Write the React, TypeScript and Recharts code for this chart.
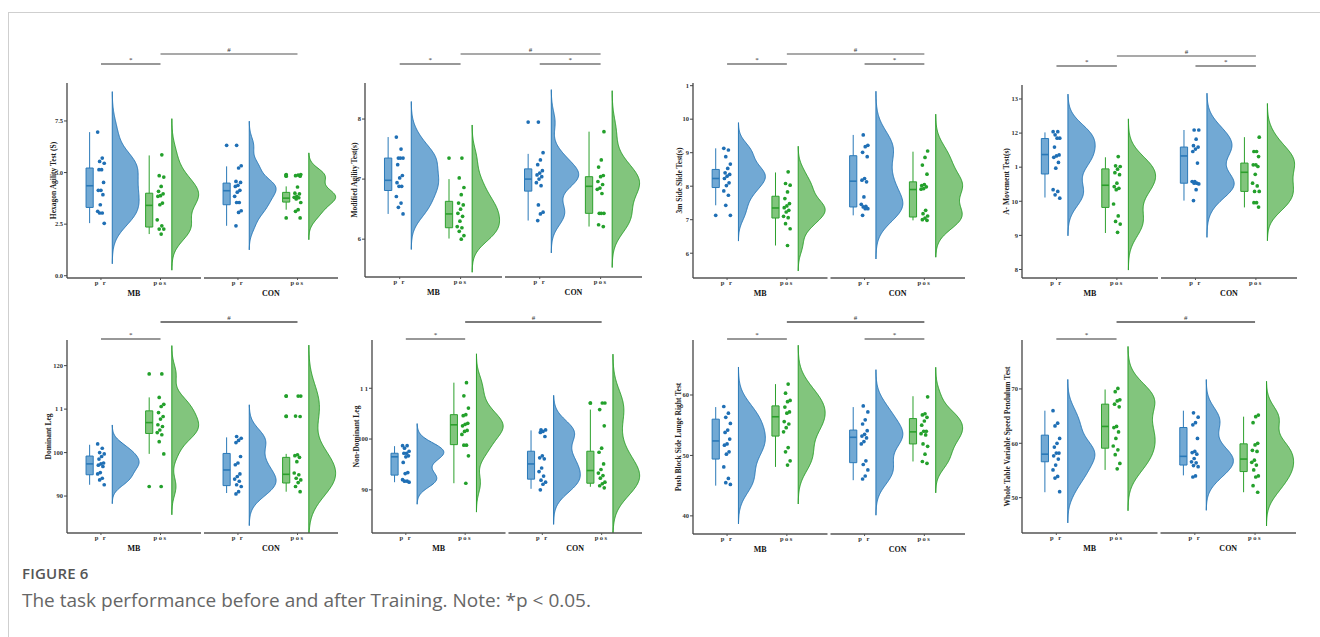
import React from "react";
import {
  ComposedChart,
  XAxis,
  YAxis,
  Area,
  Line,
  Scatter,
  ReferenceArea,
  ReferenceLine,
} from "recharts";

const SERIF = '"Liberation Serif", "Times New Roman", serif';

// categories
const facetLabels = ["MB", "CON"];
const timeLabels = ["p r", "pos", "p r", "pos"];

// Hexagon Agility Test (S)
const hexTicks = [0, 2.5, 5, 7.5];
const hexTickLabels = ["0.0", "2.5", "5.0", "7.5"];
const hexMbPr = [6.96, 5.7, 5.54, 5.45, 5.14, 5.14, 4.52, 4.14, 4.14, 3.93, 3.44, 3.12, 3.04, 3.04, 2.54];
const hexMbPos = [5.86, 4.85, 4.78, 4.33, 4.09, 3.97, 3.88, 3.85, 3.52, 3.44, 2.71, 2.42, 2.26, 2.26, 2.02];
const hexConPr = [6.32, 5.33, 5.22, 4.57, 4.52, 4.38, 4.33, 4.14, 4.05, 3.85, 3.55, 3.55, 3.15, 3.07, 2.42];
const hexConPos = [4.9, 4.88, 4.85, 4.82, 4.3, 4.0, 3.97, 3.85, 3.8, 3.78, 3.72, 3.55, 3.2, 3.12, 2.8];
// box stats per group: lower whisker, q1, median, q3, upper whisker
const hexBox = [[2.55, 3.31, 4.36, 5.22, 6.96], [2.02, 2.36, 3.41, 4.0, 5.83], [2.42, 3.44, 4.12, 4.49, 5.3], [3.2, 3.57, 3.76, 4.04, 4.33]];

// Modified Agility Test(s)
const modTicks = [6, 7, 8];
const modTickLabels = ["6", "7", "8"];
const modMbPr = [7.7, 7.5, 7.35, 7.35, 7.35, 7.24, 7.06, 7.02, 6.94, 6.88, 6.88, 6.71, 6.6, 6.53, 6.42];
const modMbPos = [7.35, 7.02, 6.86, 6.74, 6.6, 6.57, 6.5, 6.43, 6.38, 6.3, 6.21, 6.19, 6.13, 6.06, 6.0];
const modConPr = [7.95, 7.44, 7.32, 7.24, 7.14, 7.1, 7.07, 7.04, 7.0, 6.94, 6.89, 6.57, 6.45, 6.42, 6.31];
const modConPos = [7.79, 7.32, 7.2, 7.06, 7.04, 6.96, 6.91, 6.85, 6.83, 6.76, 6.43, 6.43, 6.43, 6.24, 6.21];
const modBox = [[6.42, 6.81, 6.98, 7.35, 7.7], [6.01, 6.19, 6.42, 6.63, 7.0], [6.31, 6.8, 7.0, 7.17, 7.42], [6.21, 6.43, 6.88, 7.04, 7.79]];

// 3m Side Slide Test(s)
const slideTicks = [6, 7, 8, 9, 10, 11];
const slideTickLabels = ["6", "7", "8", "9", "10", "1"];
const slideMbPr = [9.13, 9.08, 8.88, 8.66, 8.53, 8.4, 8.35, 8.3, 8.23, 8.1, 8.02, 7.86, 7.73, 7.43, 7.13];
const slideMbPos = [8.43, 8.08, 8.03, 7.83, 7.63, 7.48, 7.41, 7.36, 7.28, 7.23, 7.1, 7.06, 6.88, 6.73, 6.23];
const slideConPr = [9.53, 9.22, 9.18, 9.01, 8.88, 8.23, 8.18, 8.13, 7.68, 7.46, 7.4, 7.38, 7.33, 7.33, 7.13];
const slideConPos = [9.05, 8.86, 8.63, 8.36, 8.05, 8.02, 7.98, 7.93, 7.91, 7.28, 7.18, 7.11, 7.05, 7.0, 6.98];
const slideBox = [[7.43, 7.96, 8.23, 8.5, 9.13], [6.23, 7.05, 7.35, 7.7, 8.41], [7.13, 7.38, 8.15, 8.91, 9.53], [6.98, 7.08, 7.9, 8.13, 9.03]];

// A- Movement Test(s)
const moveTicks = [8, 9, 10, 11, 12, 13];
const moveTickLabels = ["8", "9", "10", "1", "12", "13"];
const moveMbPr = [12.04, 12.04, 11.95, 11.85, 11.85, 11.59, 11.36, 11.33, 11.29, 11.14, 10.97, 10.34, 10.29, 10.19, 10.09];
const moveMbPos = [11.31, 11.04, 11.02, 10.94, 10.84, 10.78, 10.53, 10.43, 10.38, 10.34, 9.92, 9.57, 9.41, 9.33, 9.09];
const moveConPr = [12.09, 12.09, 11.82, 11.63, 11.59, 11.53, 11.46, 11.12, 10.58, 10.58, 10.53, 10.53, 10.51, 10.34, 10.02];
const moveConPos = [11.88, 11.46, 11.46, 11.31, 11.07, 11.07, 11.02, 10.79, 10.53, 10.45, 10.29, 10.29, 9.96, 9.96, 9.83];
const moveBox = [[10.11, 10.8, 11.37, 11.84, 12.02], [9.07, 9.82, 10.47, 10.95, 11.29], [10.02, 10.53, 11.33, 11.59, 12.09], [9.82, 10.29, 10.85, 11.12, 11.88]];

// Dominant Leg
const domTicks = [90, 100, 110, 120];
const domTickLabels = ["90", "100", "1 1", "120"];
const domMbPr = [102.0, 101.0, 100.0, 99.7, 99.1, 98.5, 97.6, 97.4, 97.1, 96.8, 95.4, 95.1, 94.1, 93.7, 92.6];
const domMbPos = [118.1, 112.7, 111.1, 110.6, 109.2, 108.3, 107.7, 106.4, 106.0, 105.2, 104.6, 104.1, 102.5, 99.7, 92.2];
const domConPr = [103.7, 103.3, 102.8, 102.3, 99.1, 97.6, 97.2, 95.1, 94.5, 93.9, 93.4, 92.6, 92.2, 91.0, 90.5];
const domConPos = [113.0, 113.0, 108.4, 108.3, 99.5, 99.3, 98.9, 97.9, 95.3, 94.9, 94.1, 93.7, 93.1, 92.2, 91.0];
const domBox = [[92.6, 94.9, 97.4, 99.2, 101.8], [99.7, 104.4, 106.9, 109.6, 112.7], [90.7, 92.4, 96.0, 99.8, 103.5], [91.0, 93.0, 95.0, 98.9, 99.7]];

// Non-Dominant Leg
const ndTicks = [90, 100, 110];
const ndTickLabels = ["90", "100", "1 1"];
const ndMbPr = [98.7, 98.7, 98.2, 97.6, 97.2, 97.2, 96.7, 96.5, 95.4, 93.4, 93.2, 92.0, 91.7, 91.7, 91.5];
const ndMbPos = [111.1, 108.5, 106.1, 104.8, 104.6, 103.1, 102.9, 102.6, 101.7, 101.5, 100.9, 98.8, 98.8, 96.7, 91.3];
const ndConPr = [101.8, 101.8, 101.5, 101.3, 100.5, 96.7, 96.3, 96.1, 94.3, 93.6, 92.7, 91.9, 91.5, 91.1, 90.0];
const ndConPos = [107.1, 107.1, 105.8, 102.6, 98.2, 97.4, 95.1, 94.0, 93.3, 92.8, 92.3, 91.5, 91.2, 90.8, 90.4];
const ndBox = [[91.5, 92.9, 96.5, 97.2, 98.6], [91.3, 98.9, 102.8, 104.8, 111.1], [90.2, 92.1, 95.1, 97.6, 101.7], [90.6, 91.3, 93.8, 97.6, 105.8]];

// Push Block Side Lunge Right Test
const pushTicks = [40, 50, 60];
const pushTickLabels = ["40", "50", "60"];
const pushMbPr = [58.1, 57.0, 56.3, 55.3, 54.2, 53.8, 52.7, 51.9, 51.7, 50.6, 50.2, 48.1, 46.2, 45.5, 45.2];
const pushMbPos = [61.8, 60.3, 59.1, 58.9, 58.0, 57.2, 57.0, 55.6, 55.2, 54.6, 53.9, 51.3, 50.6, 49.1, 48.4];
const pushConPr = [58.2, 57.2, 55.9, 55.2, 54.1, 53.5, 53.2, 52.9, 52.3, 51.9, 49.1, 48.5, 47.6, 46.6, 46.1];
const pushConPos = [59.7, 56.9, 56.7, 56.3, 55.7, 55.0, 54.0, 54.0, 53.6, 53.4, 51.9, 51.5, 50.2, 49.0, 48.7];
const pushBox = [[45.0, 49.4, 52.4, 56.0, 58.0], [48.1, 53.2, 56.4, 58.2, 61.8], [45.9, 48.8, 53.0, 54.2, 58.0], [49.0, 51.9, 53.9, 56.1, 59.8]];

// Whole Table Variable Speed Pendulum Test
const wtTicks = [50, 60, 70];
const wtTickLabels = ["50", "60", "70"];
const wtMbPr = [66.0, 63.7, 63.2, 60.9, 60.0, 59.3, 58.2, 58.2, 57.7, 57.1, 56.0, 55.1, 53.9, 53.6, 51.1];
const wtMbPos = [70.1, 69.5, 68.0, 67.8, 67.2, 66.7, 63.1, 62.9, 62.1, 60.9, 59.5, 58.8, 57.9, 56.3, 55.3];
const wtConPr = [65.6, 64.8, 63.8, 63.4, 60.9, 58.5, 58.3, 58.0, 57.2, 56.6, 56.4, 55.9, 55.7, 54.0, 53.8];
const wtConPos = [65.2, 64.9, 63.8, 60.0, 59.7, 58.7, 58.5, 56.9, 56.5, 56.0, 55.1, 54.0, 53.8, 52.2, 51.0];
const wtBox = [[51.0, 56.6, 58.0, 61.5, 66.0], [55.1, 59.1, 63.1, 67.2, 69.9], [54.1, 56.0, 57.6, 62.9, 66.0], [51.0, 54.8, 57.1, 59.9, 64.9]];

const panels = [
  { title: "Hexagon Agility Test (S)", ticks: hexTicks, tickLabels: hexTickLabels, domain: [-0.11, 9.34], groups: [hexMbPr, hexMbPos, hexConPr, hexConPos], box: hexBox, conStar: false, geo: { l: 67, r: 338, t: 83, b: 278, lab: 53 }, row: 0 },
  { title: "Modified Agility Test(s)", ticks: modTicks, tickLabels: modTickLabels, domain: [5.37, 8.6], groups: [modMbPr, modMbPos, modConPr, modConPos], box: modBox, conStar: true, geo: { l: 365, r: 642, t: 83, b: 277, lab: 354 }, row: 0 },
  { title: "3m Side Slide Test(s)", ticks: slideTicks, tickLabels: slideTickLabels, domain: [5.26, 11.08], groups: [slideMbPr, slideMbPos, slideConPr, slideConPos], box: slideBox, conStar: true, geo: { l: 693, r: 965, t: 83, b: 278, lab: 679 }, row: 0 },
  { title: "A- Movement Test(s)", ticks: moveTicks, tickLabels: moveTickLabels, domain: [7.75, 13.41], groups: [moveMbPr, moveMbPos, moveConPr, moveConPos], box: moveBox, conStar: true, geo: { l: 1022, r: 1297, t: 85, b: 278, lab: 1006 }, row: 0 },
  { title: "Dominant Leg", ticks: domTicks, tickLabels: domTickLabels, domain: [81.5, 125.9], groups: [domMbPr, domMbPos, domConPr, domConPos], box: domBox, conStar: false, geo: { l: 67, r: 338, t: 340, b: 533, lab: 48 }, row: 1 },
  { title: "Non-Dominant Leg", ticks: ndTicks, tickLabels: ndTickLabels, domain: [81.5, 119.5], groups: [ndMbPr, ndMbPos, ndConPr, ndConPos], box: ndBox, conStar: false, geo: { l: 372, r: 642, t: 340, b: 533, lab: 356 }, row: 1 },
  { title: "Push Block Side Lunge Right Test", ticks: pushTicks, tickLabels: pushTickLabels, domain: [37.0, 69.1], groups: [pushMbPr, pushMbPos, pushConPr, pushConPos], box: pushBox, conStar: true, geo: { l: 693, r: 965, t: 340, b: 534, lab: 678 }, row: 1 },
  { title: "Whole Table Variable Speed Pendulum Test", ticks: wtTicks, tickLabels: wtTickLabels, domain: [43.5, 79.0], groups: [wtMbPr, wtMbPos, wtConPr, wtConPos], box: wtBox, conStar: false, geo: { l: 1022, r: 1296, t: 340, b: 533, lab: 1007 }, row: 1 },
];

// x layout (in category units)
const TICK_X = [0.57, 1.57, 2.87, 3.87];
const X_MAX = 4.55;
const FACETS = [[0, 2.25], [2.3, 4.55]];
const BOX_DX = -0.19;
const BOX_HW = 0.06;
const VIO_DX = 0.19;
const VIO_W = 0.45;

const COLORS = [
  { stroke: "#2a79b8", fill: "#72a9d4", dot: "#1f6fb5" },
  { stroke: "#2ca02c", fill: "#82c57d", dot: "#23a02b" },
];
const colorOf = (k: number) => COLORS[k % 2];

function bwNrd0(v: number[]) {
  const n = v.length;
  const m = v.reduce((a, b) => a + b, 0) / n;
  const sd = Math.sqrt(v.reduce((a, b) => a + (b - m) ** 2, 0) / (n - 1));
  const s = [...v].sort((a, b) => a - b);
  const q = (p: number) => {
    const h = (n - 1) * p;
    const lo = Math.floor(h);
    return s[lo] + (h - lo) * ((s[lo + 1] ?? s[lo]) - s[lo]);
  };
  let lo = Math.min(sd, (q(0.75) - q(0.25)) / 1.34);
  if (!(lo > 0)) lo = sd || 1;
  return 0.9 * lo * Math.pow(n, -0.2);
}

function violinInfo(groups: number[][]) {
  return groups.map((g) => {
    const bw = bwNrd0(g);
    return { bw, mn: Math.min(...g) - 3 * bw, mx: Math.max(...g) + 3 * bw };
  });
}

function violinRows(groups: number[][], domain: number[]) {
  const [y0, y1] = domain;
  const info = violinInfo(groups);
  const dens = (g: number[], bw: number, y: number) =>
    g.reduce((a, v) => a + Math.exp(-0.5 * ((y - v) / bw) ** 2), 0);
  const N = 240;
  let ys = Array.from({ length: N + 1 }, (_, i) => y0 + ((y1 - y0) * i) / N);
  info.forEach((f) => {
    if (f.mn > y0) ys.push(f.mn);
    if (f.mx < y1) ys.push(f.mx);
  });
  ys = ys.sort((a, b) => a - b);
  const maxD = groups.map((g, k) =>
    Math.max(...ys.filter((y) => y >= info[k].mn && y <= info[k].mx).map((y) => dens(g, info[k].bw, y)))
  );
  return ys.map((y) => {
    const row: Record<string, any> = { y };
    groups.forEach((g, k) => {
      const f = info[k];
      const base = TICK_X[k] + VIO_DX;
      const inside = y >= f.mn - 1e-9 && y <= f.mx + 1e-9;
      const edge = base + (VIO_W * dens(g, f.bw, y)) / maxD[k];
      row["v" + k] = inside ? [base, edge] : null;
      row["e" + k] = inside ? edge : null;
    });
    return row;
  });
}

// small deterministic horizontal spread of the raw points
const jitter = (i: number) => ((((i * 7) % 11) / 10) - 0.5) * 0.11;

const dotShape = (color: string) => (p: any) =>
  p.cx == null ? <g /> : <circle cx={p.cx} cy={p.cy} r={1.85} fill={color} />;

function labelFor(ticks: number[], labels: string[]) {
  return (v: number) => {
    const i = ticks.findIndex((t) => Math.abs(t - v) < 1e-6);
    return i >= 0 ? labels[i] : String(v);
  };
}

function Panel({ p }: { p: (typeof panels)[number] }) {
  const { l, r, t, b, lab } = p.geo;
  const chartLeft = lab - 6;
  const yW = l - chartLeft;
  const mt = 42;
  const xH1 = 10;
  const xH2 = 16;
  const width = r - chartLeft + 4;
  const height = mt + (b - t) + xH1 + xH2;
  const [y0, y1] = p.domain;
  const span = y1 - y0;
  const pxToY = (px: number) => y1 + (px / (b - t)) * span;
  const rows = violinRows(p.groups, p.domain);
  const info = violinInfo(p.groups);
  const tol = span * 0.015;

  const starOff = p.row === 0 ? 19 : 1;
  const hashOff = p.row === 0 ? 29 : 18;
  const brackets = [
    { a: TICK_X[0], b: TICK_X[1], y: pxToY(starOff), text: "*", stroke: "#333", w: 1.2 },
    { a: TICK_X[1], b: TICK_X[3], y: pxToY(hashOff), text: "#", stroke: p.row === 0 ? "#555" : "#7a7a7a", w: p.row === 0 ? 1.1 : 1.8 },
  ];
  if (p.conStar) brackets.push({ a: TICK_X[2], b: TICK_X[3], y: pxToY(starOff), text: "*", stroke: "#333", w: 1.2 });

  return (
    <div style={{ position: "absolute", left: chartLeft, top: t - mt }}>
      <ComposedChart
        layout="vertical"
        width={width}
        height={height}
        data={rows}
        margin={{ top: mt, right: 4, bottom: 0, left: 0 }}
      >
        <XAxis
          xAxisId="a"
          type="number"
          dataKey="x"
          domain={[0, X_MAX]}
          allowDataOverflow
          ticks={TICK_X}
          interval={0}
          tickFormatter={labelFor(TICK_X, timeLabels)}
          height={xH1}
          axisLine={false}
          tickSize={2}
          tickMargin={0}
          tickLine={{ stroke: "#555" }}
          tick={{ fontSize: 6.5, fill: "#333", fontFamily: SERIF, fontWeight: 600, letterSpacing: 1.5 }}
        />
        <XAxis
          xAxisId="z"
          type="number"
          domain={[0, X_MAX]}
          allowDataOverflow
          ticks={FACETS.map((f) => (f[0] + f[1]) / 2)}
          interval={0}
          tickFormatter={labelFor(FACETS.map((f) => (f[0] + f[1]) / 2), facetLabels)}
          height={xH2}
          axisLine={false}
          tickLine={false}
          tickSize={0}
          tickMargin={2}
          tick={{ fontSize: 8, fill: "#111", fontFamily: SERIF, fontWeight: "bold" }}
        />
        <YAxis
          type="number"
          dataKey="y"
          domain={p.domain}
          reversed
          allowDataOverflow
          ticks={p.ticks}
          interval={0}
          tickFormatter={labelFor(p.ticks, p.tickLabels)}
          width={yW}
          axisLine={{ stroke: "#444", strokeWidth: 1.3 }}
          tickLine={{ stroke: "#444" }}
          tickSize={3}
          tickMargin={1}
          tick={{ fontSize: 6.5, fill: "#333", fontFamily: SERIF, fontWeight: 600 }}
          label={{
            value: p.title,
            angle: -90,
            position: "insideLeft",
            offset: 6,
            style: { textAnchor: "middle", fontSize: 7.5, fontWeight: "bold", fill: "#222", fontFamily: SERIF },
          }}
        />
        {p.groups.map((_, k) => (
          <Area
            key={"v" + k}
            xAxisId="a"
            dataKey={"v" + k}
            type="linear"
            stroke="none"
            fill={colorOf(k).fill}
            fillOpacity={1}
            dot={false}
            activeDot={false}
            isAnimationActive={false}
          />
        ))}
        {p.groups.map((_, k) => (
          <Line
            key={"e" + k}
            xAxisId="a"
            dataKey={"e" + k}
            type="linear"
            stroke={colorOf(k).stroke}
            strokeWidth={1}
            dot={false}
            activeDot={false}
            isAnimationActive={false}
          />
        ))}
        {info.map((f, k) => (
          <ReferenceLine
            key={"vb" + k}
            xAxisId="a"
            segment={[
              { x: TICK_X[k] + VIO_DX, y: Math.max(f.mn, y0) },
              { x: TICK_X[k] + VIO_DX, y: Math.min(f.mx, y1) },
            ]}
            stroke={colorOf(k).stroke}
            strokeWidth={1}
            ifOverflow="visible"
          />
        ))}
        {p.box.map((s, k) => {
          const bx = TICK_X[k] + BOX_DX;
          return (
            <ReferenceLine
              key={"wl" + k}
              xAxisId="a"
              segment={[{ x: bx, y: s[0] }, { x: bx, y: s[1] }]}
              stroke={colorOf(k).stroke}
              strokeWidth={1}
              ifOverflow="visible"
            />
          );
        })}
        {p.box.map((s, k) => {
          const bx = TICK_X[k] + BOX_DX;
          return (
            <ReferenceLine
              key={"wh" + k}
              xAxisId="a"
              segment={[{ x: bx, y: s[3] }, { x: bx, y: s[4] }]}
              stroke={colorOf(k).stroke}
              strokeWidth={1}
              ifOverflow="visible"
            />
          );
        })}
        {p.box.map((s, k) => {
          const bx = TICK_X[k] + BOX_DX;
          return (
            <ReferenceArea
              key={"bx" + k}
              xAxisId="a"
              x1={bx - BOX_HW}
              x2={bx + BOX_HW}
              y1={s[1]}
              y2={s[3]}
              fill={colorOf(k).fill}
              fillOpacity={1}
              stroke={colorOf(k).stroke}
              strokeWidth={1}
              ifOverflow="visible"
            />
          );
        })}
        {p.box.map((s, k) => {
          const bx = TICK_X[k] + BOX_DX;
          return (
            <ReferenceLine
              key={"md" + k}
              xAxisId="a"
              segment={[{ x: bx - BOX_HW, y: s[2] }, { x: bx + BOX_HW, y: s[2] }]}
              stroke={colorOf(k).stroke}
              strokeWidth={1.6}
              ifOverflow="visible"
            />
          );
        })}
        {p.groups.map((g, k) => (
          <Scatter
            key={"pt" + k}
            xAxisId="a"
            data={g.map((v, i) => ({ x: TICK_X[k] + jitter(i + k), y: v }))}
            shape={dotShape(colorOf(k).dot)}
            isAnimationActive={false}
          />
        ))}
        {p.groups.map((g, k) => (
          <Scatter
            key={"out" + k}
            xAxisId="a"
            data={g
              .filter((v) => v > p.box[k][4] + tol || v < p.box[k][0] - tol)
              .map((v) => ({ x: TICK_X[k] + BOX_DX, y: v }))}
            shape={dotShape(colorOf(k).dot)}
            isAnimationActive={false}
          />
        ))}
        {FACETS.map((f, i) => (
          <ReferenceLine
            key={"ax" + i}
            xAxisId="a"
            segment={[{ x: f[0], y: y0 }, { x: f[1], y: y0 }]}
            stroke="#555"
            strokeWidth={1.4}
            ifOverflow="visible"
          />
        ))}
        {brackets.map((br, i) => (
          <ReferenceLine
            key={"br" + i}
            xAxisId="a"
            segment={[{ x: br.a, y: br.y }, { x: br.b, y: br.y }]}
            stroke={br.stroke}
            strokeWidth={br.w}
            ifOverflow="visible"
            label={{ value: br.text, position: "top", offset: 2, fontSize: 7, fill: "#333", fontFamily: SERIF }}
          />
        ))}
      </ComposedChart>
    </div>
  );
}

export default function App() {
  return (
    <div
      style={{
        position: "absolute",
        left: 0,
        top: 0,
        width: 1320,
        height: 637,
        background: "#fff",
        overflow: "hidden",
      }}
    >
      <div
        style={{
          position: "absolute",
          left: 8,
          top: 12,
          width: 1320,
          height: 640,
          borderTop: "1px solid #cfcfcf",
          borderLeft: "1px solid #cfcfcf",
        }}
      />
      {panels.map((p, i) => (
        <Panel key={i} p={p} />
      ))}
      <div
        style={{
          position: "absolute",
          left: 22,
          top: 563,
          fontFamily: '"Open Sans", sans-serif',
          fontSize: 15,
          fontWeight: 600,
          color: "#555",
          letterSpacing: 0.2,
        }}
      >
        FIGURE 6
      </div>
      <div
        style={{
          position: "absolute",
          left: 22,
          top: 587,
          fontFamily: '"Open Sans", sans-serif',
          fontSize: 19,
          color: "#666",
        }}
      >
        The task performance before and after Training. Note: *p &lt; 0.05.
      </div>
    </div>
  );
}
